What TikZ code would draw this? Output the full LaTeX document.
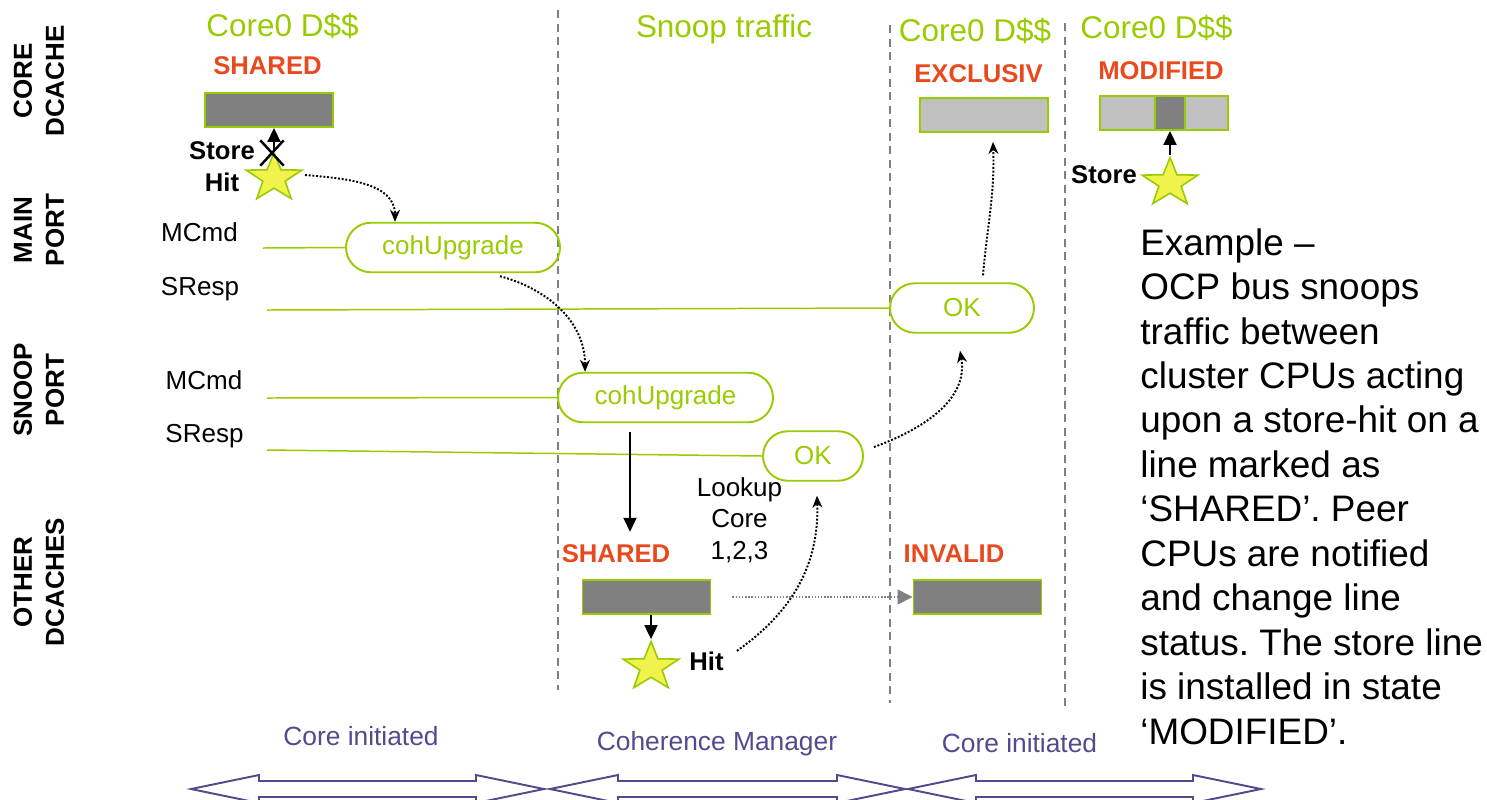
\documentclass[tikz,border=0pt]{standalone}
\usepackage{fontspec}
\setmainfont{Liberation Sans}
\usetikzlibrary{shapes.geometric,shapes.misc,arrows.meta}
\frenchspacing

\definecolor{ocpgreen}{HTML}{99CC00}
\definecolor{ocpred}{HTML}{E8491D}
\definecolor{ocpblue}{HTML}{514A8C}
\definecolor{staryellow}{HTML}{F2F24D}
\definecolor{linedark}{HTML}{808080}
\definecolor{linelight}{HTML}{C0C0C0}

\begin{document}
\begin{tikzpicture}[x=0.02cm, y=-0.02cm,
  every node/.style={inner sep=0pt},
  head/.style={text=ocpgreen, font=\fontsize{17.9}{21}\selectfont, anchor=base},
  mesi/.style={text=ocpred, font=\fontsize{14.6}{17}\selectfont\bfseries, anchor=base},
  lane/.style={rotate=90, align=center, font=\fontsize{14.8}{18.2}\selectfont\bfseries},
  sig/.style={font=\fontsize{14.8}{17}\selectfont, anchor=base},
  bold/.style={font=\fontsize{14.6}{18.2}\selectfont\bfseries},
  slot/.style={draw=ocpgreen, line width=1.1pt, minimum width=2.56cm, minimum height=0.68cm},
  pill/.style={rounded rectangle, draw=ocpgreen, line width=1.1pt, text=ocpgreen, font=\fontsize{14.8}{17}\selectfont, minimum height=0.99cm},
  hitstar/.style={star, star points=5, star point ratio=2.5, draw=ocpgreen, fill=staryellow, line width=0.9pt, minimum size=1.02cm, xscale=1.15},
  wire/.style={ocpgreen, line width=0.85pt},
  hop/.style={densely dotted, line width=1.1pt, -{Stealth[length=0.24cm, width=0.2cm]}},
  push/.style={line width=1.1pt, -{Triangle[length=0.28cm, width=0.26cm]}},
  split/.style={dash pattern=on 0.16cm off 0.11cm, draw=linedark, line width=1.1pt},
  phase/.style={text=ocpblue, font=\fontsize{15}{18}\selectfont, anchor=base},
  span/.style={draw=ocpblue, line width=1.1pt}
]
  \useasboundingbox (0,0) rectangle (1487,799);
  \clip (0,0) rectangle (1487,799);

  \draw[split] (558,10) -- (558,690);
  \draw[split] (890,25) -- (890,703);
  \draw[split] (1065,23) -- (1065,706);

  \node[head] (core0a) at (282.5,36) {Core0 D\$\$};
  \node[head] (snoop) at (724,37) {Snoop traffic};
  \node[head] (core0b) at (975,41) {Core0 D\$\$};
  \node[head] (core0c) at (1156.5,38) {Core0 D\$\$};

  \node[lane] (lcore) at (39,81) {CORE\\DCACHE};
  \node[lane] (lmain) at (39,230) {MAIN\\PORT};
  \node[lane] (lsnoop) at (39,390) {SNOOP\\PORT};
  \node[lane] (lother) at (39,582) {OTHER\\DCACHES};

  \node[mesi] (shtop) at (267.5,74) {SHARED};
  \node[mesi] (excl) at (978.5,82) {EXCLUSIV};
  \node[mesi] (modi) at (1161,79) {MODIFIED};
  \node[mesi] (shlow) at (616,562) {SHARED};
  \node[mesi] (inval) at (954,562) {INVALID};

  \node[slot, fill=linedark] (c0line) at (269,110) {};
  \node[slot, fill=linelight] (exline) at (984,115) {};
  \node[slot, fill=linelight] (moline) at (1164,113) {};
  \node[draw=ocpgreen, line width=1.1pt, fill=linedark, minimum width=0.6cm, minimum height=0.68cm] (moword) at (1170,113) {};
  \node[slot, fill=linedark] (shline) at (646.5,597) {};
  \node[slot, fill=linedark] (invline) at (977.5,597) {};

  \node[hitstar] (hit0) at (274,178) {};
  \node[hitstar] (hit1) at (1170,183) {};
  \node[hitstar] (hit2) at (651,667) {};

  \node[bold, align=center] (storehit) at (222,167) {Store\\Hit};
  \node[bold, anchor=base] (store1) at (1104,183) {Store};
  \node[bold, anchor=base] (hitlbl) at (706.5,670) {Hit};

  \node[pill, minimum width=4.28cm] (upmain) at (453,247.5) {cohUpgrade};
  \node[pill, minimum width=2.88cm] (okmain) at (962,308) {OK};
  \node[pill, minimum width=4.3cm] (upsnoop) at (665.5,397.5) {cohUpgrade};
  \node[pill, minimum width=2cm] (oksnoop) at (813,456) {OK};

  \node[sig] (mcmd1) at (199.5,241) {MCmd};
  \node[sig] (sresp1) at (200,295) {SResp};
  \node[sig] (mcmd2) at (204,389) {MCmd};
  \node[sig] (sresp2) at (204.5,442) {SResp};

  \coordinate (m1) at (263,248);
  \coordinate (r1) at (267,310);
  \coordinate (m2) at (267,398);
  \coordinate (r2) at (267,450);
  \draw[wire] (m1) -- (upmain.west);
  \draw[wire] (r1) -- (okmain.west);
  \draw[wire] (m2) -- (upsnoop.west);
  \draw[wire] (r2) -- (oksnoop.west);

  \node[font=\fontsize{14.8}{17.9}\selectfont, align=center] (lookup) at (739.5,520) {Lookup\\Core\\1,2,3};

  \draw[push] (hit0.north) -- (hit0.north |- c0line.south);
  \node[draw, cross out, line width=1.4pt, minimum width=0.42cm, minimum height=0.46cm] (nogo) at (272,153) {};
  \draw[push] (hit1.north) -- (hit1.north |- moline.south);
  \draw[push] ([xshift=-0.71cm,yshift=-0.18cm]upsnoop.south) -- ([xshift=0.28cm,yshift=0.24cm]shlow.north);
  \draw[push] (hit2.north |- shline.south) -- (hit2.north);

  \draw[hop] ([xshift=0.62cm,yshift=0.06cm]hit0.center) to[out=-5,in=90] ([xshift=-1.16cm]upmain.north);
  \draw[hop] ([xshift=0.94cm,yshift=-0.06cm]upmain.south) to[out=-15,in=90] ([xshift=-1.61cm]upsnoop.north);
  \draw[hop] ([xshift=0.26cm,yshift=0.2cm]hitlbl.east) to[out=35,in=-88] ([xshift=0.08cm,yshift=-0.28cm]oksnoop.south);
  \draw[hop] ([xshift=0.2cm,yshift=0.18cm]oksnoop.east) to[out=20,in=-80] ([xshift=-0.04cm,yshift=-0.34cm]okmain.south);
  \draw[hop] ([xshift=0.42cm,yshift=0.14cm]okmain.north) to[out=85,in=-88] ([xshift=0.18cm,yshift=-0.18cm]exline.south);
  \draw[densely dotted, draw=linedark, line width=0.8pt, -{Triangle[length=0.3cm,width=0.3cm]}] ([xshift=0.42cm]shline.east) -- (invline.west);

  \node[anchor=north west, align=left, font=\fontsize{21}{25.3}\selectfont] (note) at (1140,228) {Example --\\OCP bus snoops\\traffic between\\cluster CPUs acting\\upon a store-hit on a\\line marked as\\‘SHARED’. Peer\\CPUs are notified\\and change line\\status. The store line\\is installed in state\\‘MODIFIED’.};

  \node[phase] (phase1) at (361,745) {Core initiated};
  \node[phase] (phase2) at (717,750) {Coherence Manager};
  \node[phase] (phase3) at (1019.5,752) {Core initiated};

  \foreach \a/\b in {191/544, 550/905, 908/1261}
    \draw[span] (\a,789) -- (\a+68,775) -- (\a+68,781) -- (\b-68,781) -- (\b-68,775) -- (\b,789)
      -- (\b-68,803) -- (\b-68,797) -- (\a+68,797) -- (\a+68,803) -- cycle;
\end{tikzpicture}
\end{document}
